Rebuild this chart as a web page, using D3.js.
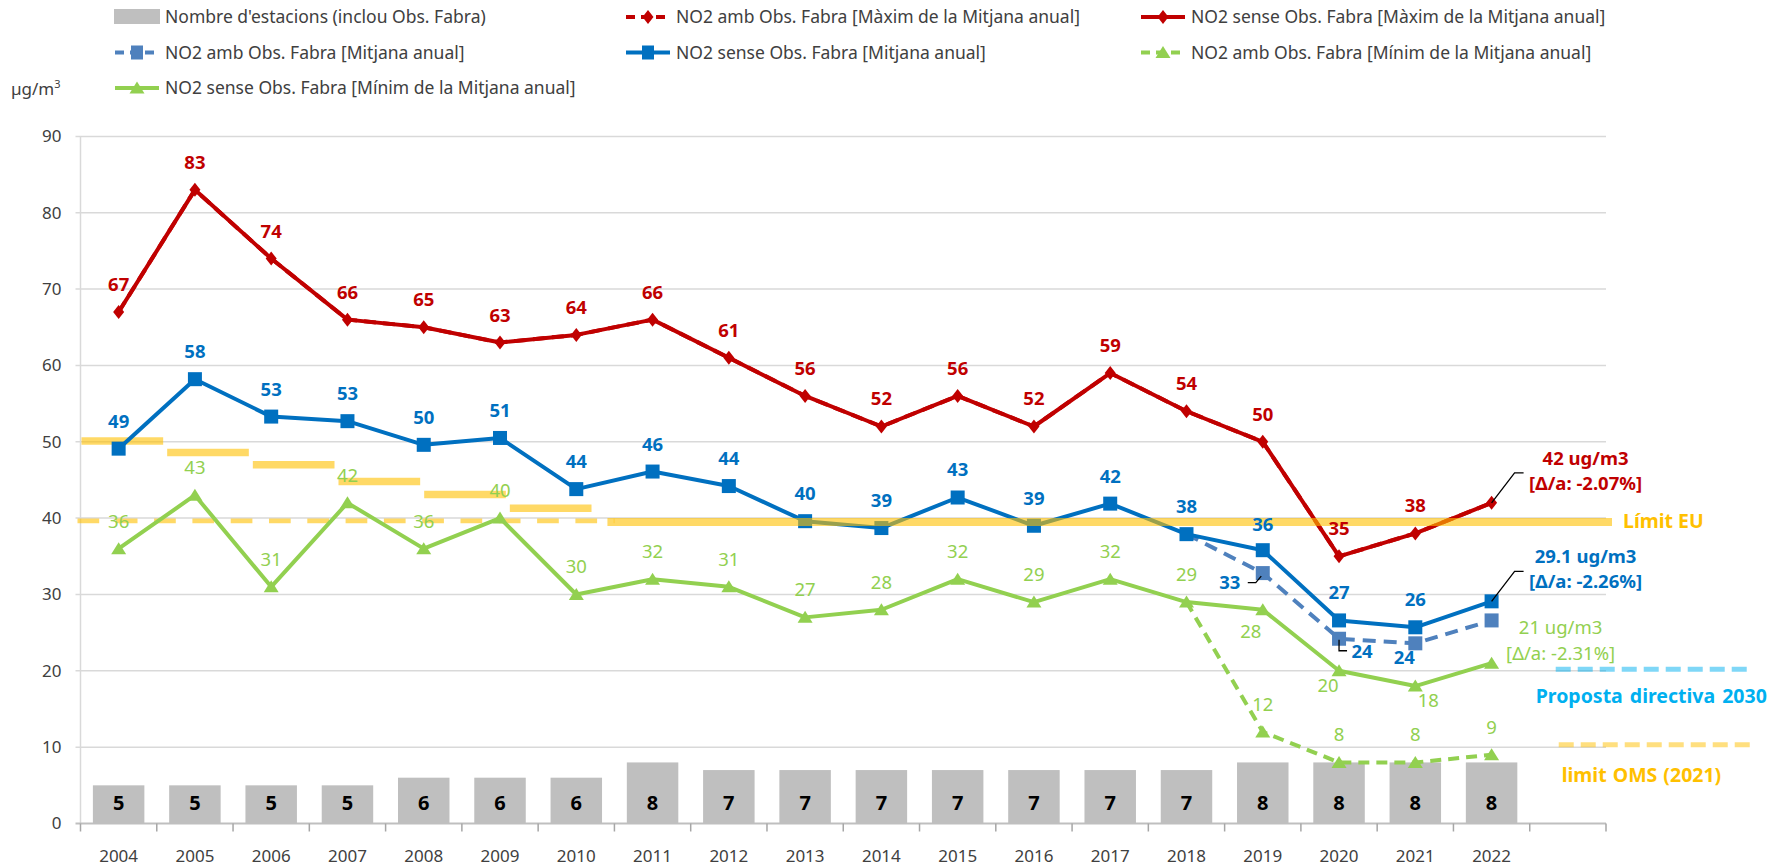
<!DOCTYPE html>
<html>
<head>
<meta charset="utf-8">
<script src="https://cdn.jsdelivr.net/npm/d3@7/dist/d3.min.js"></script>
<style>
  body { margin: 0; background: #fff; }
  svg { display: block; font-family: "Noto Sans", "Open Sans", sans-serif; }
</style>
</head>
<body>
<div id="chart"></div>
<script>
// ---- data ----
const years = [2004, 2005, 2006, 2007, 2008, 2009, 2010, 2011, 2012, 2013, 2014, 2015, 2016, 2017, 2018, 2019, 2020, 2021, 2022];
const stations = [5, 5, 5, 5, 6, 6, 6, 8, 7, 7, 7, 7, 7, 7, 7, 8, 8, 8, 8];
const maxSense = [67, 83, 74, 66, 65, 63, 64, 66, 61, 56, 52, 56, 52, 59, 54, 50, 35, 38, 42];
const maxAmb = [67, 83, 74, 66, 65, 63, 64, 66, 61, 56, 52, 56, 52, 59, 54, 50, 35, 38, 42];
const meanSense = [49.1, 58.2, 53.3, 52.7, 49.6, 50.5, 43.8, 46.1, 44.2, 39.6, 38.7, 42.7, 39, 41.9, 37.9, 35.8, 26.6, 25.7, 29.1];
const meanAmb = [49.1, 58.2, 53.3, 52.7, 49.6, 50.5, 43.8, 46.1, 44.2, 39.6, 38.7, 42.7, 39, 41.9, 37.9, 32.8, 24.2, 23.6, 26.6];
const minSense = [36, 43, 31, 42, 36, 40, 30, 32, 31, 27, 28, 32, 29, 32, 29, 28, 20, 18, 21];
const minAmb = [36, 43, 31, 42, 36, 40, 30, 32, 31, 27, 28, 32, 29, 32, 29, 12, 8, 8, 9];
const tolYears = [2004, 2005, 2006, 2007, 2008, 2009];
const tolValues = [50.1, 48.6, 47.0, 44.8, 43.1, 41.3];
const euLimit = 39.5;
const proposal2030 = 20.2;
const whoLimit = 10.3;
const yTicks = [0, 10, 20, 30, 40, 50, 60, 70, 80, 90];
const lastNotes = {
  max: ["42 ug/m3", "[Δ/a: -2.07%]"],
  mean: ["29.1 ug/m3", "[Δ/a: -2.26%]"],
  min: ["21 ug/m3", "[Δ/a: -2.31%]"]
};

const RED = "#C00000", BLUE = "#0070C0", BLUE2 = "#4F81BD", GREEN = "#92D050",
      GREY = "#BFBFBF", YEL = "#FFC000", SKY = "#00B0F0", TXT = "#404040";

const width = 1787, height = 866;
const margin = { top: 136.4, left: 80.5, bottom: 42.5, right: 181 };
const iw = width - margin.left - margin.right;
const ih = height - margin.top - margin.bottom;

const svg = d3.select("#chart").append("svg").attr("width", width).attr("height", height);
const g = svg.append("g").attr("transform", `translate(${margin.left},${margin.top})`);

const x = d3.scaleBand().domain([...years, 2023]).range([0, iw]).padding(0);
const xc = d => x(d) + x.bandwidth() / 2;
const y = d3.scaleLinear().domain([0, 90]).range([ih, 0]);
const tolX = d3.scaleLinear().domain([2004, 2010]).range([0, 514]);

// gridlines
g.append("g").selectAll("line").data(yTicks.filter(d => d > 0)).join("line")
  .attr("x1", -5).attr("x2", iw).attr("y1", d => y(d)).attr("y2", d => y(d))
  .attr("stroke", "#D9D9D9").attr("stroke-width", 1.5);

// y axis
g.append("line").attr("x1", 0).attr("x2", 0).attr("y1", 0).attr("y2", ih)
  .attr("stroke", "#D9D9D9").attr("stroke-width", 1.5);
const yAxis = g.append("g").call(d3.axisLeft(y).tickValues(yTicks).tickSize(0).tickPadding(19));
yAxis.select(".domain").remove();
yAxis.selectAll("text").attr("fill", TXT).style("font-size", "17px").style("font-family", "Noto Sans");

// bars
const bw = x.bandwidth() * 0.675;
g.append("g").selectAll("rect").data(years).join("rect")
  .attr("x", (d) => xc(d) - bw / 2)
  .attr("y", (d, i) => y(stations[i]))
  .attr("width", bw)
  .attr("height", (d, i) => ih - y(stations[i]))
  .attr("fill", GREY);
g.append("g").selectAll("text").data(years).join("text")
  .attr("x", d => xc(d)).attr("y", ih - 13)
  .attr("text-anchor", "middle").attr("font-weight", "bold").attr("font-size", 20).attr("fill", "#000")
  .text((d, i) => stations[i]);

// x axis
g.append("line").attr("x1", -5).attr("x2", iw).attr("y1", ih).attr("y2", ih)
  .attr("stroke", "#BFBFBF").attr("stroke-width", 2);
g.append("g").selectAll("line").data([...x.domain().map(d => x(d)), iw]).join("line")
  .attr("x1", d => d).attr("x2", d => d).attr("y1", ih).attr("y2", ih + 8)
  .attr("stroke", "#A6A6A6").attr("stroke-width", 1.5);
g.append("g").selectAll("text").data(years).join("text")
  .attr("x", d => xc(d)).attr("y", ih + 39)
  .attr("text-anchor", "middle").attr("font-size", 17).attr("fill", TXT)
  .text(d => d);

// tolerance steps + dashed 40 line
g.append("g").selectAll("line").data(tolYears).join("line")
  .attr("x1", d => tolX(d) + 1).attr("x2", d => tolX(d + 1) - 3)
  .attr("y1", (d, i) => y(tolValues[i])).attr("y2", (d, i) => y(tolValues[i]))
  .attr("stroke", YEL).attr("stroke-opacity", 0.6).attr("stroke-width", 7.5);
g.append("line").attr("x1", -3).attr("x2", x(2011))
  .attr("y1", y(euLimit + 0.15)).attr("y2", y(euLimit + 0.15))
  .attr("stroke", YEL).attr("stroke-opacity", 0.6).attr("stroke-width", 4.8)
  .attr("stroke-dasharray", "21.7 16.6");

// reference lines at right
g.append("line").attr("x1", x(2023) + 26).attr("x2", iw + 147)
  .attr("y1", y(proposal2030)).attr("y2", y(proposal2030))
  .attr("stroke", SKY).attr("stroke-opacity", 0.5).attr("stroke-width", 5)
  .attr("stroke-dasharray", "15 7");
g.append("line").attr("x1", x(2023) + 29).attr("x2", iw + 149)
  .attr("y1", y(whoLimit)).attr("y2", y(whoLimit))
  .attr("stroke", YEL).attr("stroke-opacity", 0.5).attr("stroke-width", 5)
  .attr("stroke-dasharray", "15 7");

// series
const diamond = "M0,-7L5.5,0L0,7L-5.5,0Z";
const triangle = "M0,-6.5L7.5,5.5L-7.5,5.5Z";

function drawLine(vals, color, dash, from) {
  const pts = vals.map((v, i) => [years[i], v]).filter(p => p[0] >= from);
  g.append("path").datum(pts)
    .attr("fill", "none").attr("stroke", color).attr("stroke-width", 4)
    .attr("stroke-linejoin", "round")
    .attr("stroke-dasharray", dash)
    .attr("d", d3.line().x(p => xc(p[0])).y(p => y(p[1])));
}
function drawMarks(vals, color, shape, from) {
  const pts = vals.map((v, i) => [years[i], v]).filter(p => p[0] >= from);
  const s = g.append("g").selectAll("g").data(pts).join("g")
    .attr("transform", p => `translate(${xc(p[0])},${y(p[1])})`);
  if (shape === "square") {
    s.append("rect").attr("x", -7).attr("y", -7).attr("width", 14).attr("height", 14).attr("fill", color);
  } else {
    s.append("path").attr("d", shape === "diamond" ? diamond : triangle).attr("fill", color);
  }
}

drawLine(maxAmb, RED, "12 7", 2004);
drawLine(maxSense, RED, null, 2004);
drawMarks(maxSense, RED, "diamond", 2004);

drawLine(meanAmb, BLUE2, "13 8", 2018);
drawMarks(meanAmb, BLUE2, "square", 2019);
drawLine(meanSense, BLUE, null, 2004);
drawMarks(meanSense, BLUE, "square", 2004);

drawLine(minAmb, GREEN, "11 7", 2018);
drawMarks(minAmb, GREEN, "triangle", 2019);
drawLine(minSense, GREEN, null, 2004);
drawMarks(minSense, GREEN, "triangle", 2004);

// EU limit band over the lines
g.append("line").attr("x1", x(2011) - 7).attr("x2", iw + 6)
  .attr("y1", y(euLimit)).attr("y2", y(euLimit))
  .attr("stroke", YEL).attr("stroke-opacity", 0.6).attr("stroke-width", 8);

// data labels
function labels(vals, color, bold, yearsShown, nudge) {
  g.append("g").selectAll("text").data(yearsShown).join("text")
    .attr("x", d => xc(d) + ((nudge[d] || [0, -21])[0]))
    .attr("y", d => y(vals[years.indexOf(d)]) + ((nudge[d] || [0, -21])[1]))
    .attr("text-anchor", "middle")
    .attr("font-size", 18.5).attr("font-weight", bold ? "bold" : "normal")
    .attr("fill", color)
    .text(d => d3.format(".0f")(vals[years.indexOf(d)]));
}
labels(maxSense, RED, true, years.slice(0, -1), {});
labels(meanSense, BLUE, true, years.slice(0, -1), { 2019: [0, -19] });
labels(minSense, GREEN, false, years.slice(0, -1),
  { 2019: [-12, 28], 2020: [-11, 21], 2021: [13, 21] });
labels(meanAmb, BLUE, true, [2019, 2020, 2021], { 2019: [-33, 16], 2020: [23, 19], 2021: [-11, 21] });
labels(minAmb, GREEN, false, [2019, 2020, 2021, 2022], {});

// leader lines for the 2019/2020 values with Obs. Fabra
const leader = d3.line();
g.append("path").attr("fill", "none").attr("stroke", "#000").attr("stroke-width", 1.3)
  .attr("d", leader([[xc(2019) - 15, y(meanAmb[15]) + 9.5], [xc(2019) - 7, y(meanAmb[15]) + 9.5], [xc(2019) - 1.5, y(meanAmb[15]) + 3]]));
g.append("path").attr("fill", "none").attr("stroke", "#000").attr("stroke-width", 1.3)
  .attr("d", leader([[xc(2020), y(meanAmb[16]) + 1], [xc(2020), y(meanAmb[16]) + 12], [xc(2020) + 8, y(meanAmb[16]) + 12]]));

// notes for the last year
const last = years.length - 1;
function note(val, lines, color, dx, withLeader) {
  const px = xc(years[last]), py = y(val);
  if (withLeader) {
    g.append("path").attr("fill", "none").attr("stroke", "#000").attr("stroke-width", 1.3)
      .attr("d", leader([[px, py], [px + 23, py - 30], [px + 32, py - 30]]));
  }
  const t = g.append("text").attr("text-anchor", "middle").attr("fill", color)
    .attr("font-size", 18.5).attr("font-weight", withLeader ? "bold" : "normal");
  t.append("tspan").attr("x", px + dx).attr("y", py - (withLeader ? 38 : 29)).text(lines[0]);
  t.append("tspan").attr("x", px + dx).attr("y", py - (withLeader ? 13 : 3)).text(lines[1]);
}
note(maxSense[last], lastNotes.max, RED, 94, true);
note(meanSense[last], lastNotes.mean, BLUE, 94, true);
note(minSense[last], lastNotes.min, GREEN, 69, false);

// reference labels
g.append("text").attr("x", iw + 17).attr("y", y(euLimit) + 6.5).attr("fill", YEL)
  .attr("font-weight", "bold").attr("font-size", 19.5).text("Límit EU");
g.append("text").attr("x", x(2023) + 6).attr("y", y(proposal2030) + 33.5).attr("fill", SKY)
  .attr("font-weight", "bold").attr("font-size", 19.5).attr("word-spacing", 2).text("Proposta directiva 2030");
g.append("text").attr("x", x(2023) + 32).attr("y", y(whoLimit) + 37).attr("fill", YEL)
  .attr("font-weight", "bold").attr("font-size", 19.5).attr("word-spacing", 1).text("limit OMS (2021)");

// legend
const legend = [
  { name: "Nombre d'estacions (inclou Obs. Fabra)", kind: "bar" },
  { name: "NO2 amb Obs. Fabra [Màxim de la Mitjana anual]", color: RED, dash: true, shape: "diamond" },
  { name: "NO2  sense Obs. Fabra [Màxim de la Mitjana anual]", color: RED, dash: false, shape: "diamond" },
  { name: "NO2 amb Obs. Fabra [Mitjana anual]", color: BLUE2, dash: true, shape: "square" },
  { name: "NO2 sense Obs. Fabra [Mitjana anual]", color: BLUE, dash: false, shape: "square" },
  { name: "NO2 amb Obs. Fabra [Mínim de la Mitjana anual]", color: GREEN, dash: true, shape: "triangle" },
  { name: "NO2 sense Obs. Fabra [Mínim de la Mitjana anual]", color: GREEN, dash: false, shape: "triangle" }
];
const colX = [114, 625, 1140], rowY = [17, 52.5, 88];
const li = svg.append("g").selectAll("g").data(legend).join("g")
  .attr("transform", (d, i) => `translate(${colX[i % 3]},${rowY[Math.floor(i / 3)]})`);
li.each(function (d) {
  const s = d3.select(this);
  if (d.kind === "bar") {
    s.append("rect").attr("x", 0).attr("y", -8).attr("width", 46).attr("height", 15).attr("fill", GREY);
  } else {
    s.append("line").attr("x1", 1).attr("x2", 45).attr("y1", 0).attr("y2", 0)
      .attr("stroke", d.color).attr("stroke-width", 4)
      .attr("stroke-dasharray", d.dash ? "9 6" : null);
    const m = s.append("g").attr("transform", "translate(23,0)");
    if (d.shape === "square") m.append("rect").attr("x", -6).attr("y", -7).attr("width", 12).attr("height", 14).attr("fill", d.color);
    else m.append("path").attr("d", d.shape === "diamond" ? diamond : triangle).attr("fill", d.color);
  }
  s.append("text").attr("x", 51).attr("y", 6).attr("font-size", 17.5).attr("fill", TXT).text(d.name);
});

// unit
const unit = svg.append("text").attr("x", 11).attr("y", 95).attr("font-size", 17).attr("fill", TXT);
unit.append("tspan").text("µg/m");
unit.append("tspan").attr("dy", -7).attr("font-size", 11).text("3");
</script>
</body>
</html>
